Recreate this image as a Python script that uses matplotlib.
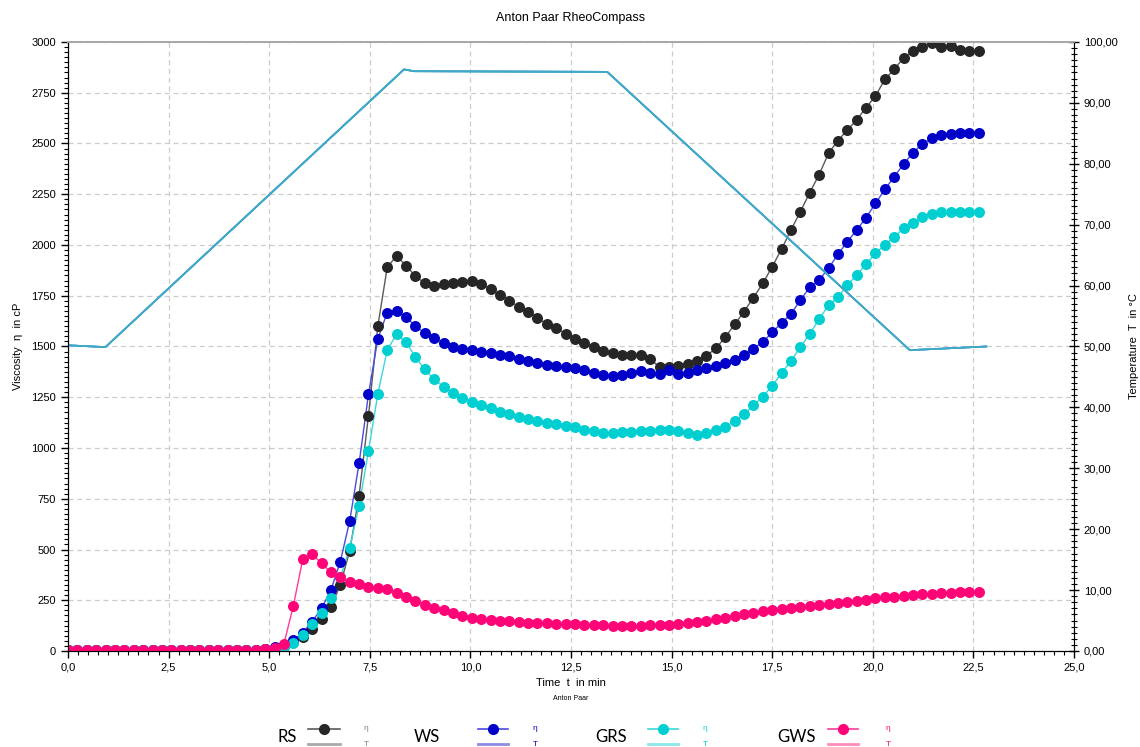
import numpy as np
import matplotlib
matplotlib.use("Agg")
import matplotlib.pyplot as plt
from matplotlib.lines import Line2D
from matplotlib.ticker import MultipleLocator, FuncFormatter

plt.rcParams['font.family'] = ['Liberation Sans', 'DejaVu Sans']

# ---------------- data ----------------
n_points = 98
sample_step_min = 14 / 60          # one measuring point every 14 s
time_min = np.arange(n_points) * sample_step_min

low = [5] * 21   # k = 0..20 (before gelatinisation)

visc_RS = low + [8, 14, 25, 45, 71, 107, 156, 218, 325, 493, 764, 1159, 1601, 1890, 1947,
                 1898, 1847, 1811, 1800, 1806, 1811, 1818, 1821, 1808, 1782, 1754, 1726, 1696,
                 1672, 1642, 1611, 1591, 1563, 1539, 1516, 1496, 1478, 1470, 1460, 1458, 1458,
                 1440, 1397, 1400, 1405, 1414, 1430, 1455, 1491, 1546, 1609, 1672, 1741, 1811,
                 1893, 1980, 2074, 2164, 2258, 2347, 2452, 2514, 2567, 2616, 2677, 2734, 2816,
                 2866, 2922, 2957, 2977, 2993, 2977, 2980, 2961, 2956, 2956]

visc_WS = low + [10, 18, 30, 54, 90, 145, 210, 300, 440, 640, 924, 1264, 1539, 1667, 1677,
                 1644, 1601, 1565, 1540, 1516, 1499, 1489, 1483, 1473, 1466, 1460, 1453, 1440,
                 1430, 1420, 1411, 1406, 1399, 1392, 1383, 1371, 1361, 1353, 1360, 1371, 1381,
                 1371, 1366, 1384, 1363, 1371, 1382, 1392, 1405, 1417, 1435, 1458, 1490, 1522,
                 1569, 1617, 1660, 1729, 1791, 1828, 1885, 1954, 2016, 2074, 2135, 2205, 2274,
                 2337, 2399, 2455, 2498, 2525, 2542, 2547, 2550, 2550, 2550]

visc_GRS = low + [5, 10, 18, 41, 79, 133, 189, 259, 363, 506, 716, 985, 1266, 1483, 1560,
                  1522, 1447, 1388, 1338, 1302, 1269, 1245, 1225, 1213, 1195, 1179, 1167, 1154,
                  1144, 1135, 1125, 1118, 1108, 1102, 1090, 1085, 1076, 1074, 1077, 1078, 1082,
                  1084, 1087, 1087, 1083, 1075, 1065, 1076, 1087, 1102, 1135, 1167, 1210, 1253,
                  1306, 1368, 1430, 1496, 1563, 1634, 1704, 1742, 1803, 1852, 1906, 1959, 2000,
                  2041, 2082, 2110, 2136, 2153, 2164, 2164, 2164, 2164, 2164]

visc_GWS = low + [8, 15, 36, 222, 452, 476, 432, 387, 363, 338, 328, 316, 312, 303, 287,
                  267, 248, 229, 213, 200, 186, 174, 165, 160, 155, 150, 147, 143,
                  140, 138, 136, 134, 133, 131, 129, 128, 126, 122, 122, 122, 124,
                  126, 128, 129, 133, 136, 141, 148, 157, 165, 174, 181, 188, 195,
                  202, 207, 212, 217, 222, 228, 233, 238, 243, 248, 253, 259, 264,
                  267, 272, 276, 279, 283, 286, 288, 290, 290, 290]

temp_time = [0.0, 0.93, 8.35, 8.6, 13.4, 20.92, 22.82]
temp_vals = [50.2, 49.9, 95.5, 95.2, 95.1, 49.4, 50.0]

series_names = ["RS", "WS", "GRS", "GWS"]
series_visc = [visc_RS, visc_WS, visc_GRS, visc_GWS]

marker_colors = ["#262626", "#0000c8", "#00cfd2", "#ff0477"]
line_colors = ["#5a5a5a", "#4a4ae0", "#3ad8d8", "#ff3a96"]
temp_legend_colors = ["#a8a8a8", "#8c8ce6", "#8ce8e8", "#ff8cbc"]
temp_color = "#41a8c9"

# ---------------- figure ----------------
fig = plt.figure(figsize=(11.4, 7.47), dpi=100)
ax = fig.add_axes([68 / 1140, 1 - 651 / 747, (1074 - 68) / 1140, (651 - 42) / 747])
ax2 = ax.twinx()

for name, v, mc, lc in zip(series_names, series_visc, marker_colors, line_colors):
    ax.plot(time_min, v, color=lc, lw=1.0, zorder=3)
    ax.plot(time_min, v, ls="none", marker="o", ms=6.9, mfc=mc, mec=mc, zorder=4)

for i in range(len(series_names)):
    ax2.plot(temp_time, temp_vals, color=temp_color, lw=1.2)

ax.set_xlim(0, 25)
ax.set_ylim(0, 3000)
ax2.set_ylim(0, 100)

ax.xaxis.set_major_locator(MultipleLocator(2.5))
ax.xaxis.set_minor_locator(MultipleLocator(0.25))
ax.yaxis.set_major_locator(MultipleLocator(250))
ax.yaxis.set_minor_locator(MultipleLocator(25))
ax2.yaxis.set_major_locator(MultipleLocator(10))
ax2.yaxis.set_minor_locator(MultipleLocator(1))

ax.xaxis.set_major_formatter(FuncFormatter(lambda v, p: f"{v:.1f}".replace(".", ",")))
ax.yaxis.set_major_formatter(FuncFormatter(lambda v, p: f"{v:.0f}"))
ax2.yaxis.set_major_formatter(FuncFormatter(lambda v, p: f"{v:.2f}".replace(".", ",")))

ax.grid(True, which="major", color="#cccccc", ls=(0, (4, 3)), lw=0.9)
ax.set_axisbelow(True)

ax.tick_params(axis="both", which="major", direction="out", length=5, width=1, labelsize=8, colors="black")
ax.tick_params(axis="both", which="minor", direction="out", length=3, width=0.8)
ax2.tick_params(axis="y", which="major", direction="inout", length=7, width=1, labelsize=8)
ax2.tick_params(axis="y", which="minor", direction="inout", length=4, width=0.8)

for s in ["left", "bottom", "right"]:
    ax2.spines[s].set_color("black")
    ax.spines[s].set_color("black")
ax.spines["top"].set_color("#a8a8a8")
ax2.spines["top"].set_color("#a8a8a8")
ax.spines["top"].set_linewidth(1.3)
ax2.spines["top"].set_linewidth(1.3)

ax.set_xlabel("Time  t  in min", fontsize=8, labelpad=4)
ax.set_ylabel("Viscosity  η  in cP", fontsize=8, labelpad=6)
ax2.set_ylabel("Temperature  T  in °C", fontsize=8, labelpad=8)

fig.text(571 / 1140, 1 - 18 / 747, "Anton Paar RheoCompass", ha="center", va="center", fontsize=9)
fig.text(571 / 1140, 1 - 698 / 747, "Anton Paar", ha="center", va="center", fontsize=5)

# ---------------- custom legend ----------------
def fx(px):
    return px / 1140

def fy(py):
    return 1 - py / 747

leg_text_x = [287, 427, 611, 797]
leg_handle_x = [(308, 340), (478, 508), (648, 678), (828, 858)]
leg_sym_x = [366, 535, 705, 888]
y_eta, y_T, y_lab = 729, 744, 737

for name, tx, (h0, h1), sx, mc, lc, tc in zip(series_names, leg_text_x, leg_handle_x, leg_sym_x,
                                               marker_colors, line_colors, temp_legend_colors):
    fig.text(fx(tx), fy(y_lab), name, ha="center", va="center", fontsize=12,
             family=["Lato", "DejaVu Sans"])
    fig.add_artist(Line2D([fx(h0), fx(h1)], [fy(y_eta), fy(y_eta)], color=lc, lw=1.2,
                          transform=fig.transFigure))
    fig.add_artist(Line2D([fx((h0 + h1) / 2)], [fy(y_eta)], marker="o", ms=7, mfc=mc, mec=mc,
                          ls="none", transform=fig.transFigure))
    fig.add_artist(Line2D([fx(h0), fx(h1)], [fy(y_T), fy(y_T)], color=tc, lw=2,
                          transform=fig.transFigure))
    sym_col = mc if name != "RS" else "#808080"
    fig.text(fx(sx), fy(y_eta), "η", ha="center", va="center", fontsize=6, color=sym_col)
    fig.text(fx(sx), fy(y_T), "T", ha="center", va="center", fontsize=6, color=sym_col)

fig.savefig("out.png", dpi=100)
